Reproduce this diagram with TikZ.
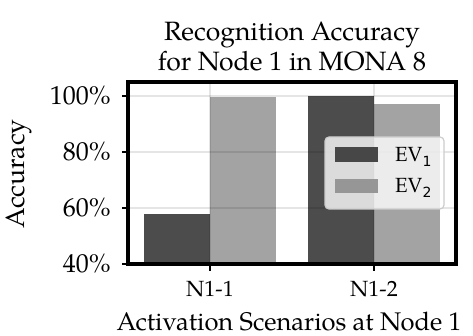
\documentclass[tikz,border=0pt]{standalone}
\usepackage{fontspec}
\setmainfont{TeX Gyre Pagella}
\newfontfamily\subfont{DejaVu Sans}
\begin{document}
\begin{tikzpicture}[x=1pt,y=-1pt,
  barone/.style={fill=black!70,draw=none},
  bartwo/.style={fill=black!36,draw=none},
  gridline/.style={draw=black,opacity=0.1,line width=1.3pt},
  tickmark/.style={draw=black,line width=1.6pt},
  ticklabel/.style={font=\fontsize{26}{30}\selectfont,inner sep=0pt},
  xticklabel/.style={font=\fontsize{22}{26}\selectfont,inner sep=0pt},
  axislabel/.style={font=\fontsize{26.5}{30}\selectfont,inner sep=0pt},
  legendtext/.style={font=\fontsize{20.5}{24}\selectfont,inner sep=0pt,anchor=base west}]
\useasboundingbox (0,0) rectangle (473,336);

% plot area: x from 128 to 456, y from 82 (105%) to 264 (40%)
\coordinate (ll) at (128,264);
\coordinate (ur) at (456,82);

% bars (value v -> y = 264 - (v-40)*2.8)
\fill[barone] (144,264) rectangle (210,{264-(58-40)*2.8});
\fill[bartwo] (210,264) rectangle (276,{264-(99.8-40)*2.8});
\fill[barone] (308,264) rectangle (374,{264-(100-40)*2.8});
\fill[bartwo] (374,264) rectangle (440,{264-(97.1-40)*2.8});

% grid
\foreach \yy in {96,152,208} \draw[gridline] (128,\yy) -- (456,\yy);
\foreach \xx in {210,374} \draw[gridline] (\xx,82) -- (\xx,264);

% ticks and tick labels
\foreach \yy/\lab in {96/100\%,152/80\%,208/60\%,264/40\%} {
  \draw[tickmark] (122,\yy) -- (128,\yy);
  \node[ticklabel,anchor=east] (yt\yy) at (111,\yy) {\lab};
}
\foreach \xx/\lab in {210/N1-1,374/N1-2} {
  \draw[tickmark] (\xx,264) -- (\xx,271);
  \node[xticklabel] (xt\xx) at (\xx,289) {\lab};
}

% frame
\draw[line width=3.6pt] (ll) rectangle (ur);

% legend
\node[draw=black!20,fill=white,fill opacity=0.8,rounded corners=4pt,line width=1.2pt,
  minimum width=119pt,minimum height=72pt,inner sep=0pt] (legend) at (384.5,173) {};
\fill[black!72] (335,147) rectangle (378,162);
\fill[black!41] (335,179) rectangle (378,193);
\node[legendtext] (ev1) at (395,162) {EV\raisebox{-5pt}{\subfont\fontsize{14}{16}\selectfont 1}};
\node[legendtext] (ev2) at (395,193) {EV\raisebox{-5pt}{\subfont\fontsize{14}{16}\selectfont 2}};

% labels
\node[axislabel,align=center] (title) at (292,46) {Recognition Accuracy\\for Node 1 in MONA 8};
\node[axislabel,font=\fontsize{25.5}{30}\selectfont] (xlab) at (289,321) {Activation Scenarios at Node 1};
\node[axislabel,rotate=90] (ylab) at (19,174) {Accuracy};
\end{tikzpicture}
\end{document}
